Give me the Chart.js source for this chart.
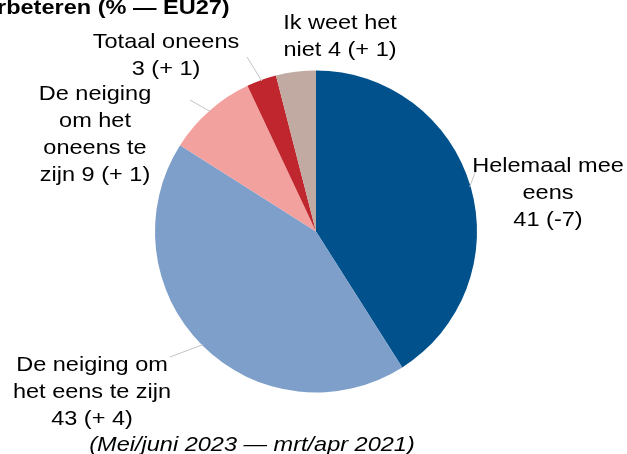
<!DOCTYPE html>
<html>
<head>
<meta charset="utf-8">
<script src="https://cdn.jsdelivr.net/npm/chart.js@4.4.0/dist/chart.umd.min.js"></script>
<style>
  body { margin: 0; background: #fff; }
  canvas { display: block; }
</style>
</head>
<body>
<canvas id="taartChart" width="627" height="454"></canvas>
<script>
// Gegevens (Mei/juni 2023, verschil met mrt/apr 2021)
const categorieen = ['Helemaal mee eens', 'De neiging om het eens te zijn', 'De neiging om het oneens te zijn', 'Totaal oneens', 'Ik weet het niet'];
const waarden = [41, 43, 9, 3, 4];
const verschillen = ['-7', '+ 4', '+ 1', '+ 1', '+ 1'];
const kleuren = ['#00518c', '#7f9fcb', '#f2a19f', '#bf262d', '#c0aaa1'];

// labelregels zoals ze in de grafiek staan
const labelRegels = [
    ['Helemaal mee', 'eens', waarden[0] + ' (' + verschillen[0] + ')'],
    ['De neiging om', 'het eens te zijn', waarden[1] + ' (' + verschillen[1] + ')'],
    ['De neiging', 'om het', 'oneens te', 'zijn ' + waarden[2] + ' (' + verschillen[2] + ')'],
    ['Totaal oneens', waarden[3] + ' (' + verschillen[3] + ')'],
    ['Ik weet het', 'niet ' + waarden[4] + ' (' + verschillen[4] + ')']
];

// plaats van de labels (midden van de eerste regel) en eindpunt van de hulplijn
const labelPlek = [
    { x: 548, y: 164, lijn: [476, 170] },
    { x: 92, y: 363, lijn: [170, 357] },
    { x: 95, y: 92, lijn: [190, 100] },
    { x: 166, y: 40, lijn: [247, 57] },
    { x: 340, y: 21, lijn: null }
];

function tekst(ctx, s, x, y, font, align) {
    ctx.save();
    ctx.font = font;
    ctx.translate(x, y);
    ctx.scale(1.12, 1);
    ctx.textAlign = align || 'center';
    ctx.textBaseline = 'alphabetic';
    ctx.fillStyle = '#000';
    ctx.fillText(s, 0, 0);
    ctx.restore();
}

const labelsPlugin = {
    id: 'labelsPlugin',
    afterDraw(chart) {
        const ctx = chart.ctx;
        const meta = chart.getDatasetMeta(0);

        // hulplijnen
        meta.data.forEach((arc, i) => {
            const p = labelPlek[i];
            if (!p.lijn) return;
            const a = arc.getProps(['x', 'y', 'startAngle', 'endAngle', 'outerRadius'], true);
            const mid = (a.startAngle + a.endAngle) / 2;
            ctx.save();
            ctx.strokeStyle = '#c4c4c4';
            ctx.lineWidth = 1;
            ctx.beginPath();
            ctx.moveTo(a.x + Math.cos(mid) * (a.outerRadius - 1), a.y + Math.sin(mid) * (a.outerRadius - 1));
            ctx.lineTo(p.lijn[0], p.lijn[1]);
            ctx.stroke();
            ctx.restore();
        });

        // labels
        labelRegels.forEach((regels, i) => {
            const p = labelPlek[i];
            regels.forEach((r, j) => {
                tekst(ctx, r, p.x, p.y + 8 + j * 27, '21px "Liberation Sans", Arial, sans-serif');
            });
        });

        // titel (bovenaan afgesneden) en voetnoot
        tekst(ctx, 'rbeteren (% \u2014 EU27)', -3, 14, 'bold 21px "Liberation Sans", Arial, sans-serif', 'left');
        tekst(ctx, '(Mei/juni 2023 \u2014 mrt/apr 2021)', 252, 451, 'italic 21px "Liberation Sans", Arial, sans-serif');
    }
};

const canvas = document.getElementById('taartChart');
if (canvas) {
    new Chart(canvas.getContext('2d'), {
        type: 'pie',
        data: {
            labels: categorieen,
            datasets: [{
                data: waarden,
                backgroundColor: kleuren,
                borderWidth: 0
            }]
        },
        options: {
            responsive: false,
            animation: false,
            layout: { padding: { top: 70, bottom: 61, left: 155, right: 150 } },
            plugins: {
                legend: { display: false },
                tooltip: { enabled: false }
            }
        },
        plugins: [labelsPlugin]
    });
}
</script>
</body>
</html>
